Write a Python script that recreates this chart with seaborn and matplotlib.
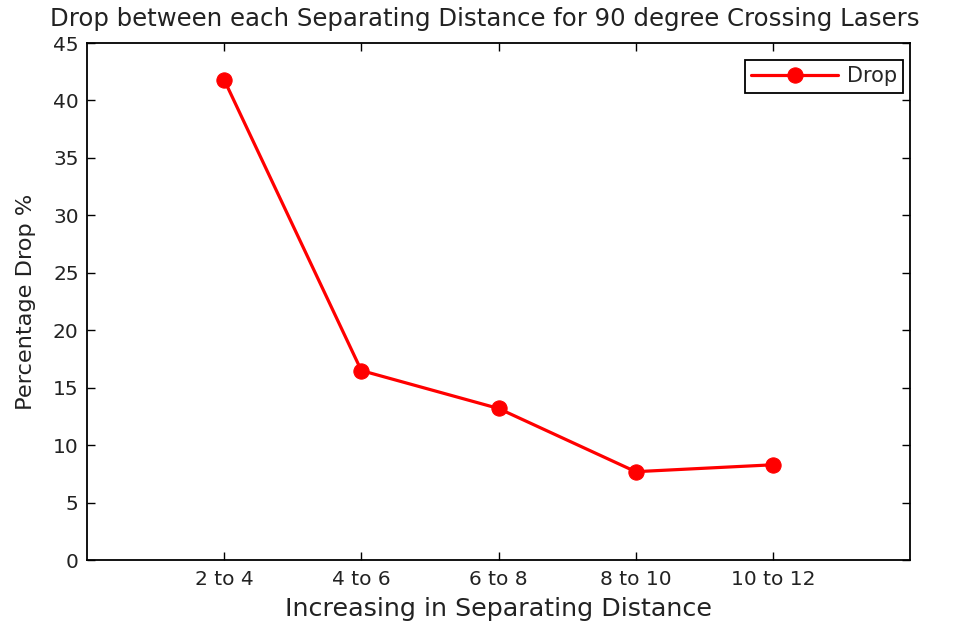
import matplotlib
matplotlib.use("Agg")
import matplotlib.pyplot as plt
import seaborn as sns
import pandas as pd

# Percentage drop between consecutive separating distances
intervals = ["2 to 4", "4 to 6", "6 to 8", "8 to 10", "10 to 12"]
drop_pct = [41.8, 16.5, 13.2, 7.7, 8.3]
y_ticks = [0, 5, 10, 15, 20, 25, 30, 35, 40, 45]

df = pd.DataFrame({"interval": intervals, "drop": drop_pct})

sns.set_theme(style="ticks")
plt.rcParams["font.family"] = ["DejaVu Sans"]

fig = plt.figure(figsize=(9.61, 6.28), dpi=100)
ax = fig.add_axes([0.0905, 0.108, 0.8565, 0.8235])

sns.lineplot(data=df, x="interval", y="drop", ax=ax, color="#ff0000",
             marker="o", markersize=11, linewidth=2.3, markeredgecolor="#ff0000",
             label="Drop", sort=False)

ax.set_xlim(-1, 5)
ax.set_ylim(0, 45)
ax.set_yticks(y_ticks)
ax.set_xticks(range(len(intervals)))
ax.set_xticklabels(intervals)

for s in ax.spines.values():
    s.set_visible(True)
    s.set_color("black")
    s.set_linewidth(1.3)
ax.tick_params(direction="in", length=6, width=1, top=True, right=True,
               labelsize=14.5, colors="black")
ax.tick_params(axis="x", pad=7)
ax.tick_params(axis="y", pad=6)
for lab in ax.get_xticklabels() + ax.get_yticklabels():
    lab.set_color("#222222")

ax.set_title("Drop between each Separating Distance for 90 degree Crossing Lasers",
             fontsize=17.6, color="#222222", pad=12, x=0.4836)
ax.set_xlabel("Increasing in Separating Distance", fontsize=18.3, color="#222222", labelpad=6)
ax.set_ylabel("Percentage Drop %", fontsize=16.2, color="#222222", labelpad=12)

leg = ax.legend(loc="upper right", bbox_to_anchor=(0.9915, 0.967), borderaxespad=0,
                fontsize=15, frameon=True, fancybox=False, edgecolor="black",
                handlelength=4.2, handletextpad=0.4, borderpad=0.3)
leg.get_frame().set_linewidth(1.3)
leg.get_frame().set_alpha(1)

fig.savefig("out.png", dpi=100)
